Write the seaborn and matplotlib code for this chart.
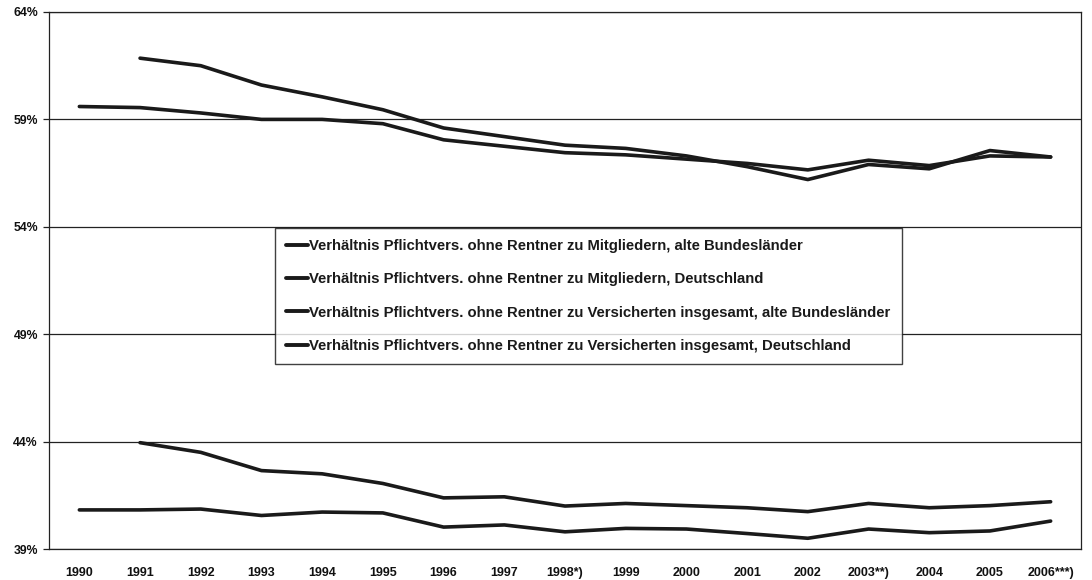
import numpy as np
import pandas as pd
import matplotlib
matplotlib.use("Agg")
import matplotlib.pyplot as plt
import seaborn as sns
from matplotlib.ticker import FixedLocator, FuncFormatter

years = ["1990", "1991", "1992", "1993", "1994", "1995", "1996", "1997", "1998*)",
         "1999", "2000", "2001", "2002", "2003**)", "2004", "2005", "2006***)"]

labels = [
    "Verhältnis Pflichtvers. ohne Rentner zu Mitgliedern, alte Bundesländer",
    "Verhältnis Pflichtvers. ohne Rentner zu Mitgliedern, Deutschland",
    "Verhältnis Pflichtvers. ohne Rentner zu Versicherten insgesamt, alte Bundesländer",
    "Verhältnis Pflichtvers. ohne Rentner zu Versicherten insgesamt, Deutschland",
]

mitgl_alt = [59.6, 59.55, 59.3, 59.0, 59.0, 58.8, 58.05, 57.75, 57.45, 57.35, 57.15,
             56.95, 56.65, 57.1, 56.85, 57.3, 57.25]
mitgl_de = [np.nan, 61.85, 61.5, 60.6, 60.05, 59.45, 58.6, 58.2, 57.8, 57.65, 57.3,
            56.8, 56.2, 56.9, 56.7, 57.55, 57.25]
vers_alt = [40.82, 40.82, 40.86, 40.56, 40.72, 40.68, 40.02, 40.12, 39.8, 39.96, 39.93,
            39.72, 39.5, 39.93, 39.76, 39.84, 40.3]
vers_de = [np.nan, 43.95, 43.5, 42.65, 42.5, 42.05, 41.38, 41.43, 41.0, 41.12, 41.02,
           40.92, 40.74, 41.12, 40.92, 41.02, 41.2]

series_values = [mitgl_alt, mitgl_de, vers_alt, vers_de]

rows = []
for lab, vals in zip(labels, series_values):
    for i, v in enumerate(vals):
        if not np.isnan(v):
            rows.append({"pos": i, "value": v, "series": lab})
df = pd.DataFrame(rows)

sns.set_style("white")
plt.rcParams['font.family'] = ['Liberation Sans', 'DejaVu Sans']

fig = plt.figure(figsize=(10.92, 5.80), dpi=100)
ax = fig.add_axes([49 / 1092, 31 / 580, 1032 / 1092, 537 / 580])

sns.lineplot(data=df, x="pos", y="value", hue="series", hue_order=labels,
             palette=["#1a1a1a"] * 4, linewidth=2.6, ax=ax, legend=True)

ax.set_xlim(-0.5, len(years) - 0.5)
ax.set_ylim(39, 64)
yt = [39, 44, 49, 54, 59, 64]
ax.set_yticks(yt)
ax.yaxis.set_major_formatter(FuncFormatter(lambda v, p: f"{int(round(v))}%"))
for y in yt:
    ax.axhline(y, color="#222222", linewidth=0.9, zorder=0)

ax.set_xticks(range(len(years)))
ax.set_xticklabels(years)
ax.xaxis.set_minor_locator(FixedLocator(np.arange(-0.5, len(years), 1.0)))
ax.tick_params(axis="x", which="major", length=0, pad=13, labelsize=9)
ax.tick_params(axis="x", which="minor", length=4, width=0.9, color="#222222",
               direction="out")
ax.tick_params(axis="y", which="major", length=4, width=0.9, color="#222222",
               direction="out", labelsize=8.8, pad=4)
ax.tick_params(bottom=True, left=True)
for lbl in ax.get_xticklabels() + ax.get_yticklabels():
    lbl.set_fontweight("bold")
    lbl.set_color("#111111")

for s in ["left", "right", "bottom", "top"]:
    ax.spines[s].set_visible(True)
    ax.spines[s].set_color("#222222")
    ax.spines[s].set_linewidth(0.9)

ax.set_xlabel("")
ax.set_ylabel("")

leg = ax.legend(loc="upper left", bbox_to_anchor=(0.219, 0.598), frameon=True,
                fancybox=False, edgecolor="#111111",
                prop={"size": 10.7, "weight": "bold"}, labelspacing=1.3,
                handlelength=1.5, handletextpad=0.05, borderpad=0.75,
                borderaxespad=0)
leg.get_frame().set_linewidth(1.0)
for t in leg.get_texts():
    t.set_color("#1a1a1a")
for h in leg.get_lines():
    h.set_linewidth(2.8)

fig.savefig("out.png", dpi=100, facecolor="white")
